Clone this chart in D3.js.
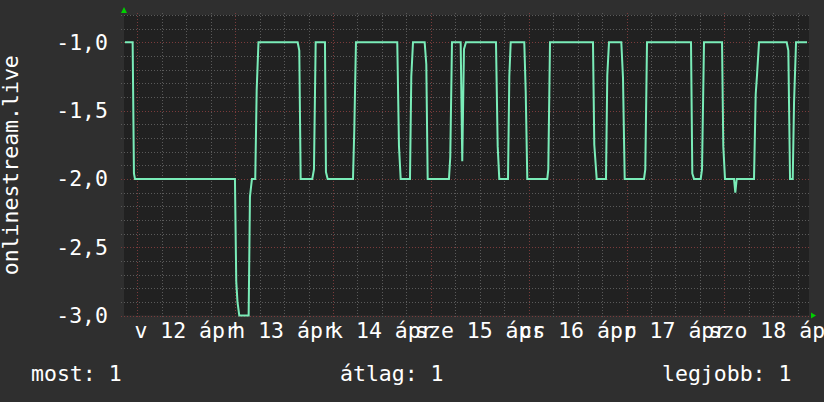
<!DOCTYPE html>
<html>
<head>
<meta charset="utf-8">
<script src="https://cdn.jsdelivr.net/npm/d3@7"></script>
<style>
    html, body { margin: 0; padding: 0; background: #2f2f2f; }
    svg { display: block; }
    text { font-family: "DejaVu Sans Mono", monospace; fill: #ffffff; }
</style>
</head>
<body>
<svg width="824" height="402"></svg>
<script>
// hours since 2020-04-12 00:00 UTC, and the value at that moment
const hours = [-3.02, -1.13, -0.81, -0.56, 23.96, 24.28, 24.58, 25.02, 27.32, 27.64,
    28.13, 28.94, 29.29, 29.73, 39.34, 39.74, 40.08, 42.92, 43.34, 43.76,
    46.04, 46.28, 46.70, 52.91, 53.23, 53.64, 63.77, 64.19, 64.61, 66.89,
    67.21, 67.63, 70.49, 70.89, 71.23, 76.45, 76.77, 77.19, 79.32, 79.71,
    80.13, 80.62, 87.98, 88.40, 88.79, 90.93, 91.25, 91.59, 94.92, 95.27,
    95.66, 100.56, 100.81, 101.23, 111.77, 112.09, 112.68, 114.96, 115.28, 115.70,
    118.72, 119.13, 119.55, 124.28, 124.60, 125.02, 135.81, 136.13, 136.55, 138.19,
    138.51, 139.00, 143.42, 143.73, 144.15, 146.36, 146.68, 147.02, 151.26, 151.68,
    152.00, 152.49, 159.28, 159.68, 160.10, 160.76, 161.08, 161.57, 164.27];
const values = [-1.0, -1.0, -1.96, -2.0, -2.0, -2.75, -2.9, -3.0, -3.0, -2.13,
    -2.0, -2.0, -1.35, -1.0, -1.0, -1.06, -2.0, -2.0, -1.93, -1.0,
    -1.0, -1.95, -2.0, -2.0, -1.64, -1.0, -1.0, -1.76, -2.0, -2.0,
    -1.25, -1.0, -1.0, -1.16, -2.0, -2.0, -1.84, -1.0, -1.0, -1.87,
    -1.05, -1.0, -1.0, -1.76, -2.0, -2.0, -1.25, -1.0, -1.0, -1.36,
    -2.0, -2.0, -1.93, -1.0, -1.0, -1.75, -2.0, -2.0, -1.24, -1.0,
    -1.0, -1.26, -2.0, -2.0, -1.93, -1.0, -1.0, -1.96, -2.0, -2.0,
    -1.93, -1.0, -1.0, -1.76, -2.0, -2.0, -2.1, -2.0, -2.0, -1.38,
    -1.24, -1.0, -1.0, -1.06, -2.0, -2.0, -1.44, -1.0, -1.0];

const yTicks = [-3.0, -2.5, -2.0, -1.5, -1.0];
const dayNames = ['v', 'h', 'k', 'sze', 'cs', 'p', 'szo'];
const monthNames = ['jan', 'feb', 'márc', 'ápr', 'máj', 'jún', 'júl', 'aug', 'szept', 'okt', 'nov', 'dec'];
const legend = [
    { label: 'most', value: 1 },
    { label: 'átlag', value: 1 },
    { label: 'legjobb', value: 1 }
];
const yTitle = 'onlinestream.live';

(function () {
    const base = Date.UTC(2020, 3, 12);
    const hourMs = 3600 * 1000;
    const start = new Date(base - 3.25 * hourMs),
            end = new Date(base + 164.75 * hourMs);

    const svg = d3.select('svg');
    const pLeft = 124, pRight = 809, pTop = 15, pBottom = 315.5;
    const fontSize = 21.5;

    const x = d3.scaleUtc().domain([start, end]).range([pLeft, pRight]);
    const y = d3.scaleLinear().domain([-3.0, -0.8]).range([pBottom, pTop]);

    svg.append('rect')
            .attr('x', pLeft)
            .attr('y', pTop)
            .attr('width', pRight - pLeft)
            .attr('height', pBottom - pTop)
            .attr('fill', '#212121');

    // grid: minor every 0.1 / 6 hours, major every 0.5 / day
    const grid = svg.append('g').attr('shape-rendering', 'crispEdges');

    const hLines = d3.range(0, 23).map(i => ({ v: -3 + i * 0.1, major: i % 5 === 0 }));
    grid.selectAll('line.h')
            .data(hLines)
            .enter().append('line')
            .attr('class', 'h')
            .attr('x1', pLeft - 3)
            .attr('x2', pRight + 2)
            .attr('y1', d => Math.round(y(d.v)) + 0.5)
            .attr('y2', d => Math.round(y(d.v)) + 0.5)
            .attr('stroke', d => d.major ? '#7a3b3b' : '#5a5a5a')
            .attr('stroke-dasharray', '1,2');

    const vLines = x.ticks(d3.utcHour.every(6))
            .map(t => ({ t: t, major: t.getUTCHours() === 0 }));
    grid.selectAll('line.v')
            .data(vLines)
            .enter().append('line')
            .attr('class', 'v')
            .attr('x1', d => Math.round(x(d.t)) + 0.5)
            .attr('x2', d => Math.round(x(d.t)) + 0.5)
            .attr('y1', pTop - 2)
            .attr('y2', pBottom + 3)
            .attr('stroke', d => d.major ? '#7a3b3b' : '#5a5a5a')
            .attr('stroke-dasharray', '1,2');

    // the series
    const points = hours.map((h, i) => ({ t: new Date(base + h * hourMs), v: values[i] }));
    const line = d3.line()
            .x(d => x(d.t))
            .y(d => y(d.v));

    svg.append('path')
            .datum(points)
            .attr('d', line)
            .attr('fill', 'none')
            .attr('stroke', '#7aecb8')
            .attr('stroke-width', 2)
            .attr('stroke-linejoin', 'miter');

    // arrows
    svg.append('path')
            .attr('d', `M${pLeft - 3},${pTop - 2}L${pLeft + 3},${pTop - 2}L${pLeft},${pTop - 8}Z`)
            .attr('fill', '#00d000');
    svg.append('path')
            .attr('d', `M${pRight + 2},${pBottom - 3}L${pRight + 2},${pBottom + 3}L${pRight + 7},${pBottom}Z`)
            .attr('fill', '#00d000');

    // y labels
    svg.append('g')
            .selectAll('text')
            .data(yTicks)
            .enter().append('text')
            .attr('x', 108)
            .attr('y', d => y(d) + 7.5)
            .attr('text-anchor', 'end')
            .attr('font-size', fontSize)
            .text(d => d3.format('.1f')(d).replace('.', ',').replace('−', '-'));

    // x labels, centred at noon of each day
    const days = d3.utcDay.range(start, end);
    svg.append('g')
            .selectAll('text')
            .data(days)
            .enter().append('text')
            .attr('x', d => x(d3.utcHour.offset(d, 12)))
            .attr('y', 338)
            .attr('text-anchor', 'middle')
            .attr('font-size', fontSize)
            .text(d => `${dayNames[d.getUTCDay()]} ${d.getUTCDate()} ${monthNames[d.getUTCMonth()]}`);

    svg.append('text')
            .attr('transform', `translate(18,${(pTop + pBottom) / 2}) rotate(-90)`)
            .attr('text-anchor', 'middle')
            .attr('font-size', fontSize)
            .text(yTitle);

    // legend
    const legendX = [31, 340, 662];
    svg.append('g')
            .selectAll('text')
            .data(legend)
            .enter().append('text')
            .attr('x', (d, i) => legendX[i])
            .attr('y', 381)
            .attr('font-size', fontSize)
            .text(d => `${d.label}: ${d.value}`);
})();
</script>
</body>
</html>
